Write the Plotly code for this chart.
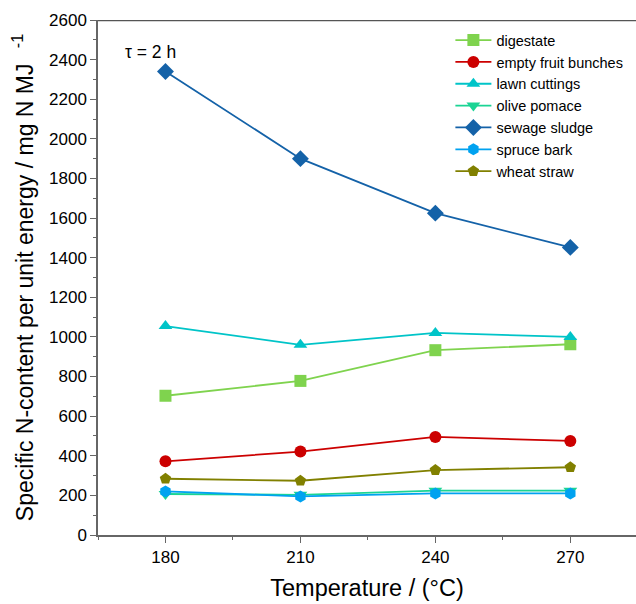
import plotly.graph_objects as go

temperature = [180, 210, 240, 270]
digestate = [703, 778, 933, 963]
empty_fruit_bunches = [372, 421, 495, 475]
lawn_cuttings = [1055, 960, 1020, 1000]
olive_pomace = [207, 203, 224, 224]
sewage_sludge = [2340, 1900, 1625, 1452]
spruce_bark = [220, 195, 210, 210]
wheat_straw = [284, 274, 328, 342]

series = [
    ("digestate", digestate, "#7fd34e", "square"),
    ("empty fruit bunches", empty_fruit_bunches, "#cc0000", "circle"),
    ("lawn cuttings", lawn_cuttings, "#00c4c8", "triangle-up"),
    ("olive pomace", olive_pomace, "#1ad494", "triangle-down"),
    ("sewage sludge", sewage_sludge, "#1462a8", "diamond"),
    ("spruce bark", spruce_bark, "#00a2f0", "hexagon"),
    ("wheat straw", wheat_straw, "#818000", "pentagon"),
]

fig = go.Figure()
for name, vals, col, sym in series:
    fig.add_trace(go.Scatter(
        x=temperature, y=vals, name=name, mode="lines+markers",
        line=dict(color=col, width=1.8),
        marker=dict(symbol=sym, size=12 if sym != "diamond" else 13, color=col),
    ))

axcol = "#666666"
fig.update_layout(
    width=636, height=604,
    margin=dict(l=98, r=0, t=20, b=69, autoexpand=False),
    paper_bgcolor="white", plot_bgcolor="white",
    font=dict(family="Liberation Sans, Arial, sans-serif", color="black"),
    showlegend=True,
    legend=dict(x=0.655, y=0.992, xanchor="left", yanchor="top",
                font=dict(size=14.5), bgcolor="rgba(0,0,0,0)",
                tracegroupgap=0, itemwidth=36),
    xaxis=dict(
        range=[165, 284.6], tickvals=temperature, ticks="outside", ticklen=6,
        tickcolor=axcol, showline=True, linecolor=axcol, linewidth=1.5,
        mirror=False, showgrid=False, zeroline=False, automargin=False,
        tickfont=dict(size=17),
        minor=dict(tickvals=[165, 195, 225, 255, 285], ticks="outside", ticklen=3, tickcolor=axcol),
        title=dict(text="Temperature / (°C)", font=dict(size=23.5), standoff=13),
    ),
    yaxis=dict(
        range=[0, 2600], dtick=200, ticks="outside", ticklen=6,
        tickcolor=axcol, showline=True, linecolor=axcol, linewidth=1.5,
        showgrid=False, zeroline=False, tickfont=dict(size=17), automargin=False,
        minor=dict(dtick=100, ticks="outside", ticklen=3, tickcolor=axcol),
        title=dict(text="Specific N-content per unit energy / mg N MJ <sup>  -1</sup>",
                   font=dict(size=23), standoff=9),
    ),
    shapes=[dict(type="line", xref="paper", yref="y", x0=0, x1=1, y0=2598, y1=2598,
                 layer="above", line=dict(color="#555555", width=1.5))],
    annotations=[dict(text="τ = 2 h", x=(123 - 98) / 538, y=1 - (52 - 20) / 515,
                      xref="paper", yref="paper",
                      showarrow=False, font=dict(size=17.5), xanchor="left", yanchor="middle")],
)

fig.write_html("out.html", config={"displayModeBar": False},
               post_script="document.body.style.margin='0';document.body.style.overflow='hidden';")
